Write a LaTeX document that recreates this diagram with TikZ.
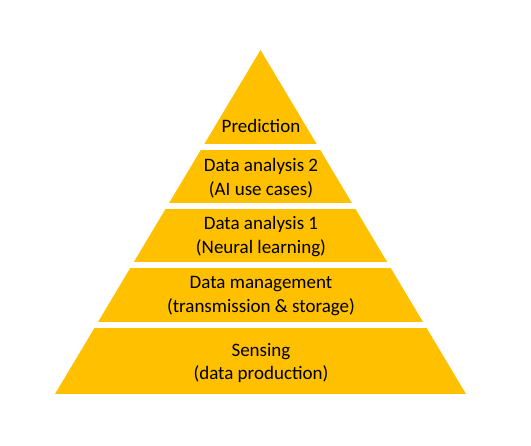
\documentclass[tikz,border=0pt]{standalone}
\usepackage{fontspec}
\setmainfont{Carlito}
\definecolor{pyr}{HTML}{FFC000}
\begin{document}
\begin{tikzpicture}[x=1pt,y=-1pt,
  lbl/.style={align=center,font=\fontsize{19}{23.5}\selectfont,text=black,inner sep=0pt}]
\useasboundingbox (0,0) rectangle (531,446);
\begin{scope}
  \clip (260.5,50) -- (466,394) -- (55,394) -- cycle;
  \fill[pyr] (0,40) rectangle (531,144);
  \fill[pyr] (0,150) rectangle (531,203.5);
  \fill[pyr] (0,209.5) rectangle (531,262);
  \fill[pyr] (0,268) rectangle (531,322);
  \fill[pyr] (0,328) rectangle (531,394);
\end{scope}
\node[lbl] (l1) at (261,126) {Prediction};
\node[lbl] (l2) at (261,178) {Data analysis 2\\(AI use cases)};
\node[lbl] (l3) at (261,236.5) {Data analysis 1\\(Neural learning)};
\node[lbl] (l4) at (261,296) {Data management\\(transmission \& storage)};
\node[lbl] (l5) at (261,363) {Sensing\\(data production)};
\end{tikzpicture}
\end{document}
